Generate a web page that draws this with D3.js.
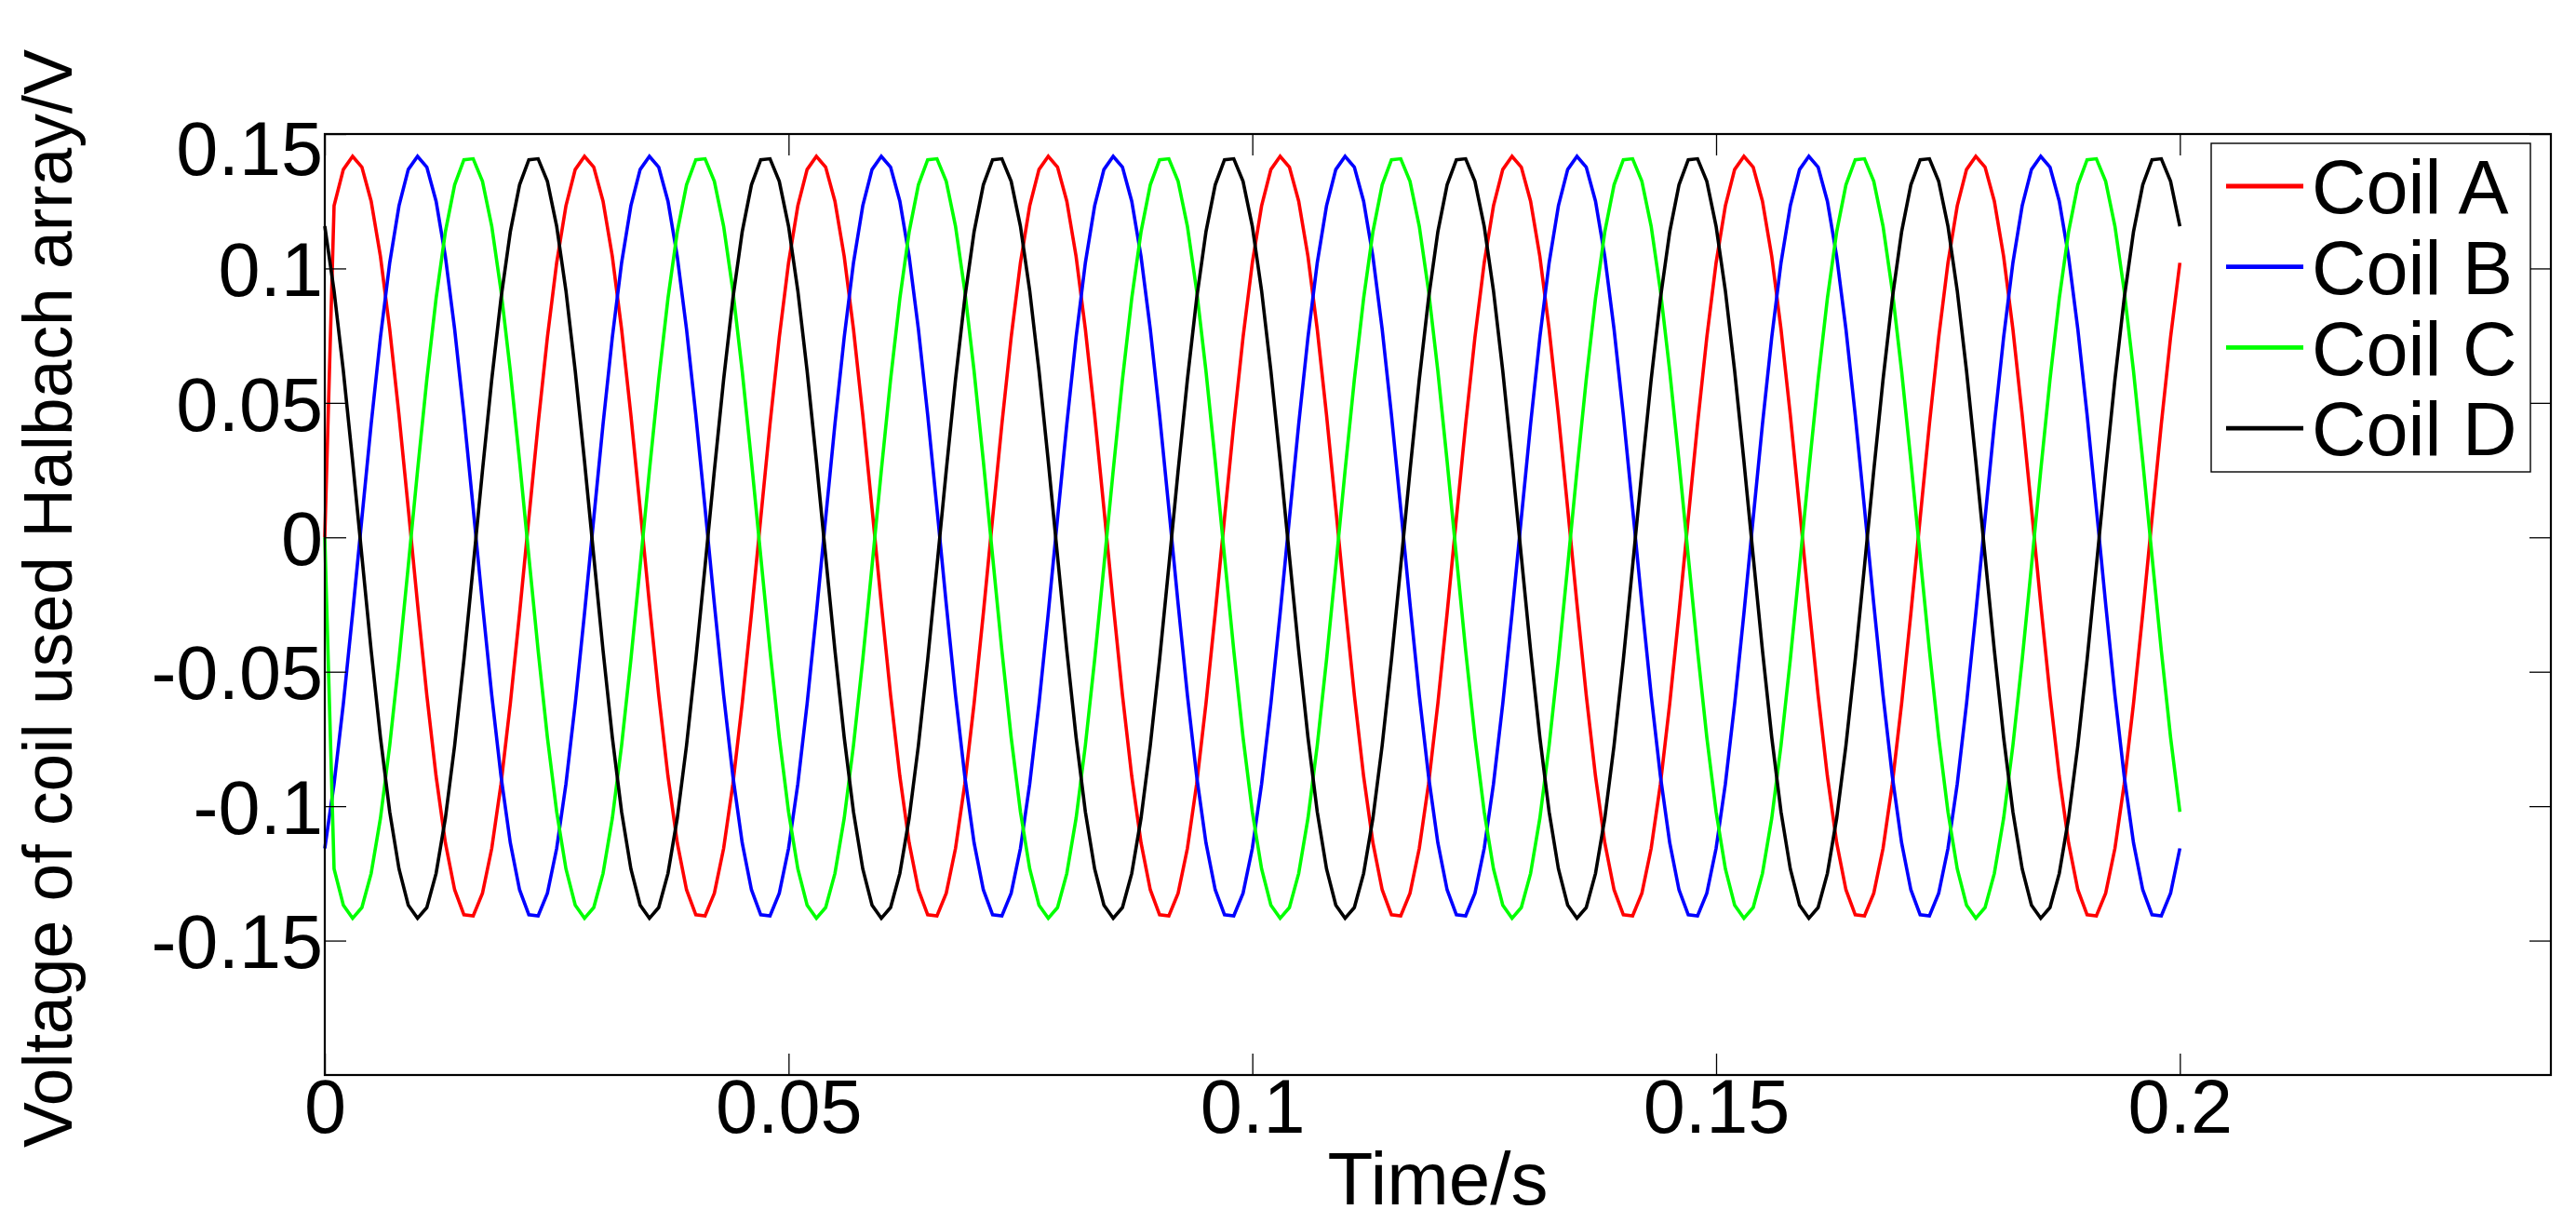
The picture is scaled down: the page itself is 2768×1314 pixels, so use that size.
<!DOCTYPE html>
<html>
<head>
<meta charset="utf-8">
<script src="https://cdn.jsdelivr.net/npm/d3@7/dist/d3.min.js"></script>
<style>
  html, body { margin: 0; padding: 0; background: #ffffff; }
  svg { display: block; }
  text { font-family: "Liberation Sans", Arial, Helvetica, sans-serif; fill: #000; }
</style>
</head>
<body>
<svg id="chart" width="2768" height="1314"></svg>
<script>
// ---------------- data ----------------
const sampleStep = 0.001; // seconds between samples, t = 0 ... 0.2 s

const coilA = [
0,0.1233,0.1368,0.1417,0.1377,0.1250,0.1045,0.0774,0.0455,0.0107,-0.0248,-0.0587,-0.0889,-0.1136,-0.1311,-0.1404,-0.1408,-0.1324,-0.1157,-0.0917,-0.0619,-0.0283,0.0071,0.0421,0.0744,
0.1021,0.1233,0.1368,0.1417,0.1377,0.1250,0.1045,0.0774,0.0455,0.0107,-0.0248,-0.0587,-0.0889,-0.1136,-0.1311,-0.1404,-0.1408,-0.1324,-0.1157,-0.0917,-0.0619,-0.0283,0.0071,0.0421,0.0744,
0.1021,0.1233,0.1368,0.1417,0.1377,0.1250,0.1045,0.0774,0.0455,0.0107,-0.0248,-0.0587,-0.0889,-0.1136,-0.1311,-0.1404,-0.1408,-0.1324,-0.1157,-0.0917,-0.0619,-0.0283,0.0071,0.0421,0.0744,
0.1021,0.1233,0.1368,0.1417,0.1377,0.1250,0.1045,0.0774,0.0455,0.0107,-0.0248,-0.0587,-0.0889,-0.1136,-0.1311,-0.1404,-0.1408,-0.1324,-0.1157,-0.0917,-0.0619,-0.0283,0.0071,0.0421,0.0744,
0.1021,0.1233,0.1368,0.1417,0.1377,0.1250,0.1045,0.0774,0.0455,0.0107,-0.0248,-0.0587,-0.0889,-0.1136,-0.1311,-0.1404,-0.1408,-0.1324,-0.1157,-0.0917,-0.0619,-0.0283,0.0071,0.0421,0.0744,
0.1021,0.1233,0.1368,0.1417,0.1377,0.1250,0.1045,0.0774,0.0455,0.0107,-0.0248,-0.0587,-0.0889,-0.1136,-0.1311,-0.1404,-0.1408,-0.1324,-0.1157,-0.0917,-0.0619,-0.0283,0.0071,0.0421,0.0744,
0.1021,0.1233,0.1368,0.1417,0.1377,0.1250,0.1045,0.0774,0.0455,0.0107,-0.0248,-0.0587,-0.0889,-0.1136,-0.1311,-0.1404,-0.1408,-0.1324,-0.1157,-0.0917,-0.0619,-0.0283,0.0071,0.0421,0.0744,
0.1021,0.1233,0.1368,0.1417,0.1377,0.1250,0.1045,0.0774,0.0455,0.0107,-0.0248,-0.0587,-0.0889,-0.1136,-0.1311,-0.1404,-0.1408,-0.1324,-0.1157,-0.0917,-0.0619,-0.0283,0.0071,0.0421,0.0744,
0.1021
];

const coilB = [
-0.1157,-0.0917,-0.0619,-0.0283,0.0071,0.0421,0.0744,0.1021,0.1233,0.1368,0.1417,0.1377,0.1250,0.1045,0.0774,0.0455,0.0107,-0.0248,-0.0587,-0.0889,-0.1136,-0.1311,-0.1404,-0.1408,-0.1324,
-0.1157,-0.0917,-0.0619,-0.0283,0.0071,0.0421,0.0744,0.1021,0.1233,0.1368,0.1417,0.1377,0.1250,0.1045,0.0774,0.0455,0.0107,-0.0248,-0.0587,-0.0889,-0.1136,-0.1311,-0.1404,-0.1408,-0.1324,
-0.1157,-0.0917,-0.0619,-0.0283,0.0071,0.0421,0.0744,0.1021,0.1233,0.1368,0.1417,0.1377,0.1250,0.1045,0.0774,0.0455,0.0107,-0.0248,-0.0587,-0.0889,-0.1136,-0.1311,-0.1404,-0.1408,-0.1324,
-0.1157,-0.0917,-0.0619,-0.0283,0.0071,0.0421,0.0744,0.1021,0.1233,0.1368,0.1417,0.1377,0.1250,0.1045,0.0774,0.0455,0.0107,-0.0248,-0.0587,-0.0889,-0.1136,-0.1311,-0.1404,-0.1408,-0.1324,
-0.1157,-0.0917,-0.0619,-0.0283,0.0071,0.0421,0.0744,0.1021,0.1233,0.1368,0.1417,0.1377,0.1250,0.1045,0.0774,0.0455,0.0107,-0.0248,-0.0587,-0.0889,-0.1136,-0.1311,-0.1404,-0.1408,-0.1324,
-0.1157,-0.0917,-0.0619,-0.0283,0.0071,0.0421,0.0744,0.1021,0.1233,0.1368,0.1417,0.1377,0.1250,0.1045,0.0774,0.0455,0.0107,-0.0248,-0.0587,-0.0889,-0.1136,-0.1311,-0.1404,-0.1408,-0.1324,
-0.1157,-0.0917,-0.0619,-0.0283,0.0071,0.0421,0.0744,0.1021,0.1233,0.1368,0.1417,0.1377,0.1250,0.1045,0.0774,0.0455,0.0107,-0.0248,-0.0587,-0.0889,-0.1136,-0.1311,-0.1404,-0.1408,-0.1324,
-0.1157,-0.0917,-0.0619,-0.0283,0.0071,0.0421,0.0744,0.1021,0.1233,0.1368,0.1417,0.1377,0.1250,0.1045,0.0774,0.0455,0.0107,-0.0248,-0.0587,-0.0889,-0.1136,-0.1311,-0.1404,-0.1408,-0.1324,
-0.1157
];

const coilC = [
0,-0.1233,-0.1368,-0.1417,-0.1377,-0.1250,-0.1045,-0.0774,-0.0455,-0.0107,0.0248,0.0587,0.0889,0.1136,0.1311,0.1404,0.1408,0.1324,0.1157,0.0917,0.0619,0.0283,-0.0071,-0.0421,-0.0744,
-0.1021,-0.1233,-0.1368,-0.1417,-0.1377,-0.1250,-0.1045,-0.0774,-0.0455,-0.0107,0.0248,0.0587,0.0889,0.1136,0.1311,0.1404,0.1408,0.1324,0.1157,0.0917,0.0619,0.0283,-0.0071,-0.0421,-0.0744,
-0.1021,-0.1233,-0.1368,-0.1417,-0.1377,-0.1250,-0.1045,-0.0774,-0.0455,-0.0107,0.0248,0.0587,0.0889,0.1136,0.1311,0.1404,0.1408,0.1324,0.1157,0.0917,0.0619,0.0283,-0.0071,-0.0421,-0.0744,
-0.1021,-0.1233,-0.1368,-0.1417,-0.1377,-0.1250,-0.1045,-0.0774,-0.0455,-0.0107,0.0248,0.0587,0.0889,0.1136,0.1311,0.1404,0.1408,0.1324,0.1157,0.0917,0.0619,0.0283,-0.0071,-0.0421,-0.0744,
-0.1021,-0.1233,-0.1368,-0.1417,-0.1377,-0.1250,-0.1045,-0.0774,-0.0455,-0.0107,0.0248,0.0587,0.0889,0.1136,0.1311,0.1404,0.1408,0.1324,0.1157,0.0917,0.0619,0.0283,-0.0071,-0.0421,-0.0744,
-0.1021,-0.1233,-0.1368,-0.1417,-0.1377,-0.1250,-0.1045,-0.0774,-0.0455,-0.0107,0.0248,0.0587,0.0889,0.1136,0.1311,0.1404,0.1408,0.1324,0.1157,0.0917,0.0619,0.0283,-0.0071,-0.0421,-0.0744,
-0.1021,-0.1233,-0.1368,-0.1417,-0.1377,-0.1250,-0.1045,-0.0774,-0.0455,-0.0107,0.0248,0.0587,0.0889,0.1136,0.1311,0.1404,0.1408,0.1324,0.1157,0.0917,0.0619,0.0283,-0.0071,-0.0421,-0.0744,
-0.1021,-0.1233,-0.1368,-0.1417,-0.1377,-0.1250,-0.1045,-0.0774,-0.0455,-0.0107,0.0248,0.0587,0.0889,0.1136,0.1311,0.1404,0.1408,0.1324,0.1157,0.0917,0.0619,0.0283,-0.0071,-0.0421,-0.0744,
-0.1021
];

const coilD = [
0.1157,0.0917,0.0619,0.0283,-0.0071,-0.0421,-0.0744,-0.1021,-0.1233,-0.1368,-0.1417,-0.1377,-0.1250,-0.1045,-0.0774,-0.0455,-0.0107,0.0248,0.0587,0.0889,0.1136,0.1311,0.1404,0.1408,0.1324,
0.1157,0.0917,0.0619,0.0283,-0.0071,-0.0421,-0.0744,-0.1021,-0.1233,-0.1368,-0.1417,-0.1377,-0.1250,-0.1045,-0.0774,-0.0455,-0.0107,0.0248,0.0587,0.0889,0.1136,0.1311,0.1404,0.1408,0.1324,
0.1157,0.0917,0.0619,0.0283,-0.0071,-0.0421,-0.0744,-0.1021,-0.1233,-0.1368,-0.1417,-0.1377,-0.1250,-0.1045,-0.0774,-0.0455,-0.0107,0.0248,0.0587,0.0889,0.1136,0.1311,0.1404,0.1408,0.1324,
0.1157,0.0917,0.0619,0.0283,-0.0071,-0.0421,-0.0744,-0.1021,-0.1233,-0.1368,-0.1417,-0.1377,-0.1250,-0.1045,-0.0774,-0.0455,-0.0107,0.0248,0.0587,0.0889,0.1136,0.1311,0.1404,0.1408,0.1324,
0.1157,0.0917,0.0619,0.0283,-0.0071,-0.0421,-0.0744,-0.1021,-0.1233,-0.1368,-0.1417,-0.1377,-0.1250,-0.1045,-0.0774,-0.0455,-0.0107,0.0248,0.0587,0.0889,0.1136,0.1311,0.1404,0.1408,0.1324,
0.1157,0.0917,0.0619,0.0283,-0.0071,-0.0421,-0.0744,-0.1021,-0.1233,-0.1368,-0.1417,-0.1377,-0.1250,-0.1045,-0.0774,-0.0455,-0.0107,0.0248,0.0587,0.0889,0.1136,0.1311,0.1404,0.1408,0.1324,
0.1157,0.0917,0.0619,0.0283,-0.0071,-0.0421,-0.0744,-0.1021,-0.1233,-0.1368,-0.1417,-0.1377,-0.1250,-0.1045,-0.0774,-0.0455,-0.0107,0.0248,0.0587,0.0889,0.1136,0.1311,0.1404,0.1408,0.1324,
0.1157,0.0917,0.0619,0.0283,-0.0071,-0.0421,-0.0744,-0.1021,-0.1233,-0.1368,-0.1417,-0.1377,-0.1250,-0.1045,-0.0774,-0.0455,-0.0107,0.0248,0.0587,0.0889,0.1136,0.1311,0.1404,0.1408,0.1324,
0.1157
];

const seriesNames = ["Coil A", "Coil B", "Coil C", "Coil D"];
const xTickValues = [0, 0.05, 0.1, 0.15, 0.2];
const xTickLabels = ["0", "0.05", "0.1", "0.15", "0.2"];
const yTickValues = [-0.15, -0.1, -0.05, 0, 0.05, 0.1, 0.15];
const yTickLabels = ["-0.15", "-0.1", "-0.05", "0", "0.05", "0.1", "0.15"];
const xTitle = "Time/s";
const yTitle = "Voltage of coil used Halbach array/V";

// ---------------- layout / style ----------------
const colors = ["#ff0000", "#0000ff", "#00ff00", "#000000"];
const plot = { left: 349, right: 2741, top: 144, bottom: 1155 };
const tickLen = 23;
const fontTick = 81;

const svg = d3.select("#chart");
svg.append("rect").attr("width", 2768).attr("height", 1314).attr("fill", "#fff");

const x = d3.scaleLinear().domain([0, 0.24]).range([plot.left, plot.right]);
const y = d3.scaleLinear().domain([-0.2, 0.15]).range([plot.bottom, plot.top]);

const seriesValues = [coilA, coilB, coilC, coilD];
const series = seriesNames.map((name, i) => ({
  name,
  color: colors[i],
  points: seriesValues[i].map((v, k) => ({ t: k * sampleStep, v }))
}));

// ---------- data lines ----------
const line = d3.line().x(d => x(d.t)).y(d => y(d.v));
svg.append("g").selectAll("path").data(series).join("path")
  .attr("d", d => line(d.points))
  .attr("fill", "none")
  .attr("stroke", d => d.color)
  .attr("stroke-width", 3.6)
  .attr("stroke-linejoin", "miter")
  .attr("stroke-miterlimit", 2);

// ---------- axes ----------
const xFmt = (d) => xTickLabels[xTickValues.indexOf(d)];
const yFmt = (d) => yTickLabels[yTickValues.indexOf(d)];

const gx = svg.append("g").attr("transform", `translate(0,${plot.bottom})`)
  .call(d3.axisBottom(x).tickValues(xTickValues).tickFormat(xFmt)
    .tickSize(-tickLen).tickPadding(4));
const gxTop = svg.append("g").attr("transform", `translate(0,${plot.top})`)
  .call(d3.axisTop(x).tickValues(xTickValues).tickFormat(() => "")
    .tickSize(-tickLen));
const gy = svg.append("g").attr("transform", `translate(${plot.left},0)`)
  .call(d3.axisLeft(y).tickValues(yTickValues).tickFormat(yFmt)
    .tickSize(-tickLen).tickPadding(2));
const gyRight = svg.append("g").attr("transform", `translate(${plot.right},0)`)
  .call(d3.axisRight(y).tickValues(yTickValues).tickFormat(() => "")
    .tickSize(-tickLen));

[gx, gxTop, gy, gyRight].forEach(g => {
  g.select(".domain").remove();
  g.selectAll(".tick line").attr("stroke", "#000").attr("stroke-width", 1.3);
  g.selectAll(".tick text")
    .attr("font-family", '"Liberation Sans", Arial, sans-serif')
    .attr("font-size", fontTick)
    .attr("fill", "#000");
});
gy.selectAll(".tick text").attr("dy", "0.36em");
// the top label sits a little lower than its tick in the reference
gy.selectAll(".tick text").filter(d => d === 0.15).attr("dy", "0.54em");

// axes box
svg.append("rect")
  .attr("x", plot.left).attr("y", plot.top)
  .attr("width", plot.right - plot.left).attr("height", plot.bottom - plot.top)
  .attr("fill", "none").attr("stroke", "#000").attr("stroke-width", 2.2);

// ---------- axis titles ----------
svg.append("text")
  .attr("x", (plot.left + plot.right) / 2).attr("y", 1294)
  .attr("text-anchor", "middle")
  .attr("font-size", 80)
  .text(xTitle);

svg.append("text")
  .attr("transform", "translate(77,643) rotate(-90)")
  .attr("text-anchor", "middle")
  .attr("font-size", 75)
  .attr("textLength", 1180)
  .attr("lengthAdjust", "spacingAndGlyphs")
  .text(yTitle);

// ---------- legend ----------
const legend = { x: 2376, y: 154, w: 343, h: 353, row0: 200, rowStep: 86.7 };
const lg = svg.append("g");
lg.append("rect")
  .attr("x", legend.x).attr("y", legend.y)
  .attr("width", legend.w).attr("height", legend.h)
  .attr("fill", "#fff").attr("stroke", "#000").attr("stroke-width", 1.4);
const items = lg.selectAll("g.item").data(series).join("g")
  .attr("class", "item")
  .attr("transform", (d, i) => `translate(0,${legend.row0 + i * legend.rowStep})`);
items.append("line")
  .attr("x1", 2392).attr("x2", 2475).attr("y1", 0).attr("y2", 0)
  .attr("stroke", d => d.color).attr("stroke-width", 4.8);
items.append("text")
  .attr("x", 2484).attr("y", 0).attr("dy", "0.36em")
  .attr("font-size", fontTick)
  .text(d => d.name);
</script>
</body>
</html>
